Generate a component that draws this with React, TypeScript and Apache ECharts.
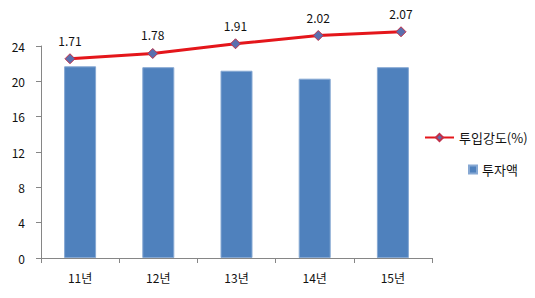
import React, { useEffect, useRef } from "react";
import * as echarts from "echarts";

const categories = ["11년", "12년", "13년", "14년", "15년"];
const investment = [21.7, 21.6, 21.2, 20.3, 21.6];
const intensity = [1.71, 1.78, 1.91, 2.02, 2.07];
const yTicks = { min: 0, max: 24, interval: 4 };

const FONT = "'Noto Sans CJK KR', 'DejaVu Sans', sans-serif";
const AXIS = "#868686";

export default function App() {
  const ref = useRef<HTMLDivElement>(null);
  useEffect(() => {
    if (!ref.current) return;
    const chart = echarts.init(ref.current, null, { renderer: "svg" });
    chart.setOption({
      animation: false,
      backgroundColor: "#ffffff",
      textStyle: { fontFamily: FONT },
      grid: [
        { left: 41, right: 103, top: 46, bottom: 40 },
        { left: 28.6, right: 92.6, top: 46, bottom: 40 },
      ],
      legend: [
        {
          data: ["투입강도(%)"],
          left: 419,
          top: 126,
          itemWidth: 29,
          itemHeight: 9,
          textStyle: { fontSize: 13, color: "#111", fontFamily: FONT },
        },
        {
          data: ["투자액"],
          left: 463,
          top: 158,
          itemWidth: 8,
          itemHeight: 8,
          icon: "rect",
          textStyle: { fontSize: 13, color: "#111", fontFamily: FONT },
        },
      ],
      xAxis: [
        {
          type: "category",
          gridIndex: 0,
          data: categories,
          axisLine: { lineStyle: { color: AXIS } },
          axisTick: { show: true, length: 5, lineStyle: { color: AXIS } },
          axisLabel: { color: "#111", fontSize: 12, margin: 13, fontFamily: FONT },
        },
        {
          type: "category",
          gridIndex: 1,
          data: categories,
          show: false,
        },
      ],
      yAxis: [
        {
          type: "value",
          gridIndex: 0,
          min: yTicks.min,
          max: yTicks.max,
          interval: yTicks.interval,
          axisLine: { show: true, lineStyle: { color: AXIS } },
          axisTick: { show: true, length: 5, lineStyle: { color: AXIS } },
          splitLine: { show: false },
          axisLabel: { color: "#111", fontSize: 12, margin: 16, fontFamily: FONT },
        },
        {
          type: "value",
          gridIndex: 1,
          min: -0.95,
          max: 1.88,
          show: false,
          splitLine: { show: false },
        },
      ],
      series: [
        {
          name: "투자액",
          type: "bar",
          xAxisIndex: 0,
          yAxisIndex: 0,
          data: investment,
          barWidth: 32,
          itemStyle: { color: "#4f81bd", borderColor: "#86a8d3", borderWidth: 1 },
        },
        {
          name: "투입강도(%)",
          type: "line",
          xAxisIndex: 1,
          yAxisIndex: 1,
          data: intensity,
          clip: false,
          symbol: "diamond",
          symbolSize: 10,
          lineStyle: { color: "#e4161b", width: 3 },
          itemStyle: { color: "#5a6fae", borderColor: "#c0304a", borderWidth: 1 },
          label: {
            show: true,
            position: "top",
            distance: 7,
            fontSize: 12,
            color: "#111",
            fontFamily: FONT,
            formatter: (p: any) => Number(p.value).toFixed(2),
          },
          z: 5,
        },
      ],
    });
    return () => chart.dispose();
  }, []);
  return <div ref={ref} style={{ width: 535, height: 298, margin: -8 }} />;
}
